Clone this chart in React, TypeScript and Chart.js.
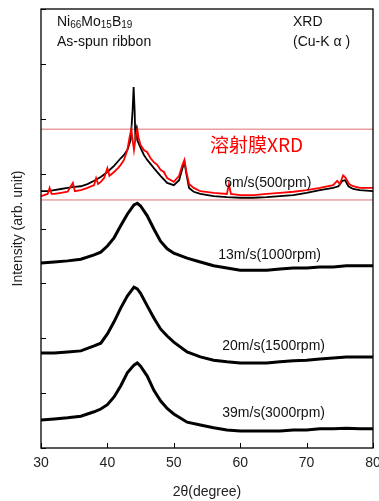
import React, { useEffect, useRef } from "react";
import { Chart, registerables } from "chart.js";

Chart.register(...registerables);

// 2θ positions and intensities (arb. units, stacked offsets)
const x39 = [30, 32, 34, 36, 38, 39, 40, 41, 42, 43, 44, 44.5, 45, 46, 47, 48, 49, 50, 52, 54, 56, 58, 60, 62, 64, 66, 68, 70, 72, 74, 76, 78, 80];
const y39 = [0.51, 0.53, 0.55, 0.58, 0.66, 0.71, 0.79, 0.93, 1.13, 1.37, 1.51, 1.55, 1.49, 1.31, 1.05, 0.86, 0.72, 0.62, 0.47, 0.42, 0.37, 0.33, 0.31, 0.31, 0.31, 0.31, 0.33, 0.33, 0.35, 0.35, 0.36, 0.35, 0.35];

const x20 = [30, 32, 34, 36, 38, 39, 40, 41, 42, 43, 44, 44.5, 45, 46, 47, 48, 49, 50, 52, 54, 56, 58, 60, 62, 64, 66, 68, 70, 72, 74, 76, 78, 80];
const y20 = [1.73, 1.73, 1.75, 1.77, 1.86, 1.91, 2.08, 2.3, 2.55, 2.77, 2.93, 2.9, 2.82, 2.59, 2.37, 2.17, 2.04, 1.93, 1.75, 1.66, 1.6, 1.57, 1.55, 1.55, 1.55, 1.57, 1.59, 1.6, 1.62, 1.64, 1.66, 1.66, 1.66];

const x13 = [30, 32, 34, 36, 38, 39, 40, 41, 42, 43, 44, 44.5, 45, 46, 47, 48, 49, 50, 52, 54, 56, 58, 60, 62, 64, 66, 68, 70, 72, 74, 76, 78, 80];
const y13 = [3.37, 3.39, 3.41, 3.44, 3.52, 3.57, 3.68, 3.83, 4.05, 4.26, 4.43, 4.46, 4.41, 4.23, 3.99, 3.77, 3.63, 3.55, 3.46, 3.39, 3.32, 3.28, 3.24, 3.24, 3.24, 3.26, 3.28, 3.28, 3.3, 3.3, 3.32, 3.32, 3.32];

const x6 = [30, 31, 32, 33, 34, 35, 36, 37, 38, 39, 40, 41, 42, 42.5, 43, 43.5, 43.8, 43.95, 44.1, 44.2, 44.35, 44.5, 45, 45.5, 46, 47, 48, 49, 50, 50.8, 51.3, 51.6, 51.9, 52.3, 53, 54, 56, 58, 60, 62, 64, 66, 68, 70, 72, 74, 74.8, 75.4, 75.8, 76.3, 77, 78, 80];
const y6 = [4.68, 4.68, 4.7, 4.72, 4.74, 4.76, 4.77, 4.81, 4.87, 4.94, 5.03, 5.14, 5.28, 5.34, 5.43, 5.61, 6.16, 6.58, 6.16, 5.7, 5.8, 5.61, 5.47, 5.34, 5.25, 5.1, 4.96, 4.83, 4.79, 4.88, 5.1, 5.21, 4.99, 4.74, 4.67, 4.63, 4.59, 4.57, 4.56, 4.56, 4.57, 4.59, 4.61, 4.65, 4.7, 4.74, 4.77, 4.87, 4.88, 4.77, 4.72, 4.7, 4.68];

const xFilm = [30, 31, 31.3, 31.6, 32, 33, 34, 34.8, 35.1, 36, 37, 38, 38.3, 38.6, 39, 39.5, 40, 40.3, 41, 41.6, 42, 42.5, 43, 43.4, 43.6, 43.8, 44, 44.3, 44.5, 44.7, 45, 45.5, 46, 46.5, 47, 47.5, 48, 48.5, 49, 50, 50.8, 51.3, 51.6, 51.9, 52.3, 53, 54, 56, 58, 58.3, 58.6, 60, 62, 64, 66, 68, 70, 72, 74, 74.6, 75, 75.5, 75.9, 76.4, 77, 78, 80];
const yFilm = [4.59, 4.63, 4.74, 4.63, 4.63, 4.65, 4.67, 4.83, 4.68, 4.7, 4.74, 4.79, 4.92, 4.81, 4.85, 4.92, 5.1, 4.96, 5.03, 5.1, 5.16, 5.25, 5.43, 5.7, 5.81, 5.61, 5.43, 5.7, 5.81, 5.65, 5.52, 5.43, 5.39, 5.28, 5.21, 5.16, 5.07, 5.03, 4.92, 4.85, 4.96, 5.16, 5.25, 5.03, 4.81, 4.74, 4.68, 4.65, 4.63, 4.81, 4.63, 4.61, 4.61, 4.63, 4.65, 4.67, 4.7, 4.74, 4.79, 4.87, 4.81, 4.97, 4.92, 4.81, 4.77, 4.74, 4.74];

const markerLines = [5.81, 4.52];
const xTicks = [30, 40, 50, 60, 70, 80];
const yTicks = [0, 1, 2, 3, 4, 5, 6, 7, 8];
const seriesLabels = ["6m/s(500rpm)", "13m/s(1000rpm)", "20m/s(1500rpm)", "39m/s(3000rpm)"];
const labelPos = [
  { x: 57.6, y: 4.82 },
  { x: 56.7, y: 3.51 },
  { x: 57.3, y: 1.86 },
  { x: 57.3, y: 0.64 },
];

const pts = (xs: number[], ys: number[]) => xs.map((x, i) => ({ x, y: ys[i] }));

export default function App() {
  const ref = useRef<HTMLCanvasElement | null>(null);
  useEffect(() => {
    document.body.style.margin = "0";
    const canvas = ref.current!;
    const FONT = '"Liberation Sans", Arial, sans-serif';
    const overlay = {
      id: "overlay",
      afterDraw(chart: any) {
        const ctx = chart.ctx as CanvasRenderingContext2D;
        const a = chart.chartArea;
        const xs = chart.scales.x;
        const ys = chart.scales.y;
        ctx.save();
        // frame
        ctx.strokeStyle = "#000";
        ctx.lineWidth = 1.3;
        ctx.strokeRect(a.left, a.top, a.right - a.left, a.bottom - a.top);
        // ticks
        ctx.lineWidth = 1;
        ctx.beginPath();
        xTicks.forEach((t) => {
          const px = Math.round(xs.getPixelForValue(t)) + 0.5;
          ctx.moveTo(px, a.bottom);
          ctx.lineTo(px, a.bottom - 5);
        });
        yTicks.forEach((t) => {
          const py = Math.round(ys.getPixelForValue(t)) + 0.5;
          ctx.moveTo(a.left, py);
          ctx.lineTo(a.left + 5, py);
        });
        ctx.stroke();
        // tick labels
        ctx.fillStyle = "#222";
        ctx.font = "14px " + FONT;
        ctx.textAlign = "center";
        ctx.textBaseline = "middle";
        xTicks.forEach((t) => {
          ctx.fillText(String(t), xs.getPixelForValue(t), 463);
        });
        ctx.fillText("2θ(degree)", (a.left + a.right) / 2, 492);
        ctx.save();
        ctx.translate(18, (a.top + a.bottom) / 2);
        ctx.rotate(-Math.PI / 2);
        ctx.fillText("Intensity (arb. unit)", 0, 0);
        ctx.restore();
        // series labels
        ctx.fillStyle = "#111";
        ctx.textAlign = "left";
        seriesLabels.forEach((s, i) => {
          ctx.fillText(s, xs.getPixelForValue(labelPos[i].x), ys.getPixelForValue(labelPos[i].y));
        });
        // composition text with subscripts
        const drawSub = (parts: [string, boolean][], x0: number, y0: number) => {
          let x = x0;
          parts.forEach(([t, sub]) => {
            ctx.font = (sub ? "10px " : "14px ") + FONT;
            ctx.fillText(t, x, sub ? y0 + 3 : y0);
            x += ctx.measureText(t).width;
          });
        };
        drawSub([["Ni", false], ["66", true], ["Mo", false], ["15", true], ["B", false], ["19", true]], 57, 22);
        ctx.font = "14px " + FONT;
        ctx.fillText("As-spun ribbon", 57, 42);
        ctx.fillText("XRD", 293, 22);
        ctx.fillText("(Cu-K α )", 293, 42);
        // film label
        ctx.fillStyle = "#ff0000";
        ctx.font = '19px "Noto Sans CJK JP", sans-serif';
        ctx.fillText("溶射膜XRD", 210, 145);
        ctx.restore();
      },
    };
    const chart = new Chart(canvas, {
      type: "line",
      data: {
        datasets: [
          { data: pts(xFilm, yFilm), borderColor: "#ff0000", borderWidth: 1.8, order: 0 },
          { data: pts(x6, y6), borderColor: "#000", borderWidth: 1.8, order: 1 },
          { data: pts(x13, y13), borderColor: "#000", borderWidth: 3, order: 1 },
          { data: pts(x20, y20), borderColor: "#000", borderWidth: 3, order: 1 },
          { data: pts(x39, y39), borderColor: "#000", borderWidth: 3, order: 1 },
          ...markerLines.map((v) => ({
            data: [{ x: 30, y: v }, { x: 80, y: v }],
            borderColor: "#e07070",
            borderWidth: 1,
            order: 2,
          })),
        ],
      },
      options: {
        animation: false,
        responsive: false,
        events: [],
        layout: { padding: { left: 41, right: 6, top: 9, bottom: 53 } },
        elements: { point: { radius: 0 }, line: { tension: 0 } },
        plugins: { legend: { display: false }, tooltip: { enabled: false } },
        scales: {
          x: { type: "linear", min: 30, max: 80, display: false },
          y: { type: "linear", min: 0, max: 8, display: false },
        },
      },
      plugins: [overlay],
    } as any);
    return () => chart.destroy();
  }, []);
  return (
    <div style={{ width: 379, height: 501, background: "#fff" }}>
      <canvas ref={ref} width={379} height={501} style={{ display: "block" }} />
    </div>
  );
}
